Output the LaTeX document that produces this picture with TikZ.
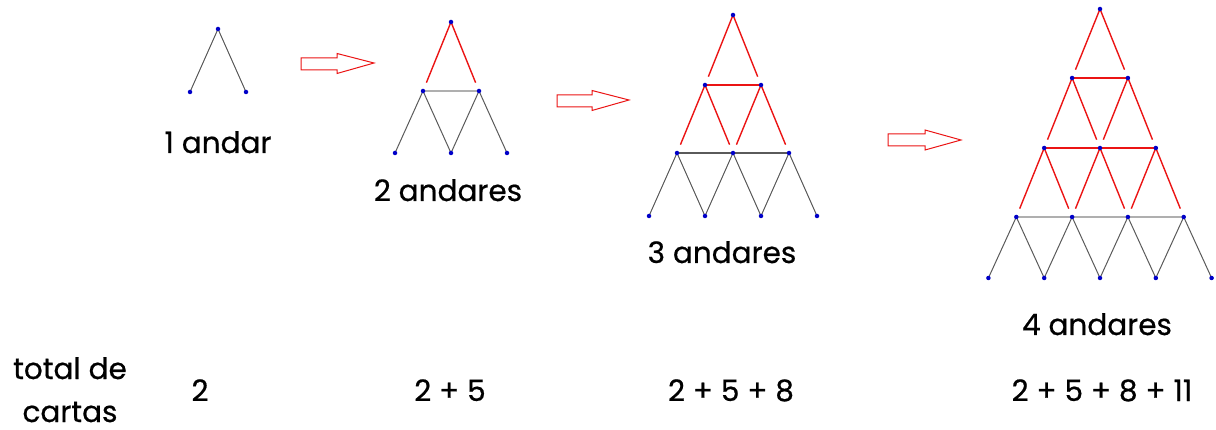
\documentclass[tikz,border=0pt]{standalone}
\usepackage{fontspec}
\setmainfont{Poppins}[FakeBold=0.6]
\tikzset{
  redline/.style={draw={rgb,255:red,235;green,20;blue,20}, line width=1.4pt, shorten >=9pt},
  grayline/.style={draw={rgb,255:red,90;green,90;blue,90}, line width=1pt},
  redbar/.style={draw={rgb,255:red,235;green,20;blue,20}, line width=1.6pt},
  graybar/.style={draw={rgb,255:red,175;green,175;blue,175}, line width=2.2pt},
  darkbar/.style={draw={rgb,255:red,90;green,90;blue,90}, line width=2pt},
  pt/.style={circle, fill={rgb,255:red,0;green,0;blue,200}, inner sep=0pt, minimum size=4.5pt},
  lbl/.style={anchor=base, font=\fontsize{29.5}{34}\selectfont},
  blockarrow/.style={draw={rgb,255:red,235;green,20;blue,20}, line width=1pt, fill=white},
}
\newcommand{\cardnodes}[4]{%
  \foreach \yy [count=\rr from 0] in {#4} {
    \foreach \k in {0,...,\rr} {
      \coordinate (#1-\rr-\k) at ({#2+(2*\k-\rr)*#3}, \yy);
    }
  }
}
\newcommand{\cardlines}[3]{% #1 name, #2 source rows, #3 style
  \foreach \rr in {#2} {
    \pgfmathtruncatemacro{\nx}{\rr+1}
    \foreach \k in {0,...,\rr} {
      \pgfmathtruncatemacro{\kk}{\k+1}
      \draw[#3] (#1-\rr-\k) -- (#1-\nx-\k);
      \draw[#3] (#1-\rr-\k) -- (#1-\nx-\kk);
    }
  }
}
\newcommand{\cardbar}[3]{% #1 name, #2 row, #3 style
  \foreach \k in {1,...,#2} {
    \pgfmathtruncatemacro{\kp}{\k-1}
    \draw[#3] (#1-#2-\kp) -- (#1-#2-\k);
  }
}
\newcommand{\carddots}[2]{%
  \foreach \rr in {0,...,#2} {
    \foreach \k in {0,...,\rr} {
      \node[pt] at (#1-\rr-\k) {};
    }
  }
}
\begin{document}
\begin{tikzpicture}[x=1pt,y=-1pt]
\useasboundingbox (0,0) rectangle (1216,430);

% house 1
\cardnodes{a}{218}{28}{29,92}
\cardlines{a}{0}{grayline}
\carddots{a}{1}

% house 2
\cardnodes{b}{451}{28}{22,91,153}
\cardbar{b}{1}{graybar}
\cardlines{b}{0}{redline}
\cardlines{b}{1}{grayline}
\carddots{b}{2}

% house 3
\cardnodes{c}{733}{28}{15,85,153,216}
\cardbar{c}{1}{redbar}
\cardbar{c}{2}{darkbar}
\cardlines{c}{0,1}{redline}
\cardlines{c}{2}{grayline}
\carddots{c}{3}

% house 4
\cardnodes{d}{1100}{27.9}{9,78,148,217,278}
\cardbar{d}{1}{redbar}
\cardbar{d}{2}{redbar}
\cardbar{d}{3}{graybar}
\cardlines{d}{0,1,2}{redline}
\cardlines{d}{3}{grayline}
\carddots{d}{4}

% block arrows
\draw[blockarrow] (301,58) -- (337,58) -- (337,53.5) -- (374,63) -- (337,73.5) -- (337,70) -- (301,70) -- cycle;
\draw[blockarrow] (557,95) -- (592,95) -- (592,90.5) -- (629,100) -- (592,110.5) -- (592,107) -- (557,107) -- cycle;
\draw[blockarrow] (888,134) -- (925,134) -- (925,130) -- (961,140) -- (925,150) -- (925,146) -- (888,146) -- cycle;

% labels
\node[lbl] (l1) at (218,153) {1 andar};
\node[lbl] (l2) at (448,201) {2 andares};
\node[lbl] (l3) at (722,263) {3 andares};
\node[lbl] (l4) at (1097,335) {4 andares};

\node[lbl] (t1) at (70,379) {total de};
\node[lbl] (t2) at (70,422) {cartas};
\node[lbl] (s1) at (200,401) {2};
\node[lbl] (s2) at (450,401) {2 + 5};
\node[lbl] (s3) at (731,401) {2 + 5 + 8};
\node[lbl] (s4) at (1102,401) {2 + 5 + 8 + 11};
\end{tikzpicture}
\end{document}
